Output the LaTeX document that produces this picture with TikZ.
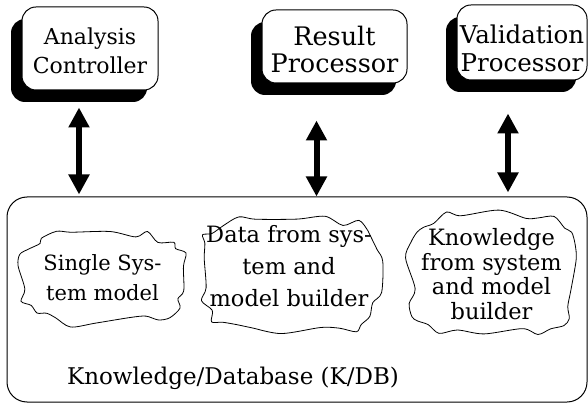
\documentclass[tikz,border=0pt]{standalone}
\usepackage{fontspec}
\setmainfont{DejaVu Serif}
\usetikzlibrary{arrows.meta, shadows}

% text of a box, pushed down inside it by #1/2
\newcommand{\lowbox}[2]{\raisebox{0pt}[\dimexpr\height+#1\relax]{%
  \begin{tabular}{@{}c@{}}#2\end{tabular}}}
% wavy outline round a point
\newcommand{\wobble}[3]{%
  \draw[line width=0.8pt, shift={#1}] plot[smooth cycle, domain=5:353, samples=30]
  ({(#2+6*rand)*sign(cos(\x))*pow(abs(cos(\x)),0.6)},
   {(#3+6*rand)*sign(sin(\x))*pow(abs(sin(\x)),0.6)});}

\begin{document}
\begin{tikzpicture}[x=1pt, y=1pt,
  proc/.style={draw, line width=1pt, fill=white, rounded corners=14pt, inner sep=0pt,
    drop shadow={shadow xshift=-11pt, shadow yshift=-12pt, opacity=1, fill=black}},
  blob/.style={align=center, inner sep=0pt},
  dbl/.style={line width=6pt,
    {Triangle[width=20pt,length=20pt]}-{Triangle[width=20pt,length=20pt]}}]
\pgfmathsetseed{4711}
\useasboundingbox (0,0) rectangle (588,404);

% processors on top
\node[proc, minimum width=136pt, minimum height=83pt,
  font=\fontsize{22}{29}\selectfont] (ac) at (90,355.5)
  {\lowbox{10pt}{Analysis\\Controller}};
\node[proc, minimum width=145pt, minimum height=73pt,
  font=\fontsize{25.5}{27}\selectfont] (rp) at (334.5,357.5)
  {\lowbox{13pt}{Result\\Processor}};
\node[proc, minimum width=130pt, minimum height=75pt,
  font=\fontsize{24.5}{28}\selectfont] (vp) at (522,361.5)
  {\lowbox{19pt}{Validation\\Processor}};

% knowledge base
\node[draw, line width=1pt, rounded corners=20pt, minimum width=580pt,
  minimum height=205pt] (kdb) at (297,104.5) {};
\node[font=\fontsize{23}{26}\selectfont] (kdblabel) at (233,26)
  {Knowledge/Database (K/DB)};

\node[blob, font=\fontsize{21}{30}\selectfont] (single) at (102.5,126.5)
  {Single Sys-\\tem model};
\node[blob, font=\fontsize{22.5}{32}\selectfont] (data) at (289,138)
  {Data from sys-\\tem and\\model builder};
\node[blob, font=\fontsize{22.5}{24.5}\selectfont] (know) at (491.5,130)
  {Knowledge\\from system\\and model\\builder};

\wobble{(single.center)}{81}{46}
\wobble{([yshift=-9pt]data.center)}{89}{58}
\wobble{(know.center)}{82}{61}

% links
\draw[dbl, shorten <=17pt, shorten >=2pt] ([xshift=-11pt]ac.south)
  -- ([xshift=-11pt]ac.south |- kdb.north);
\draw[dbl, shorten <=37pt, shorten >=0pt] ([xshift=-18pt]rp.south)
  -- ([xshift=-18pt]rp.south |- kdb.north);
\draw[dbl, shorten <=33pt, shorten >=4pt] ([xshift=-14pt]vp.south)
  -- ([xshift=-14pt]vp.south |- kdb.north);

\end{tikzpicture}
\end{document}
